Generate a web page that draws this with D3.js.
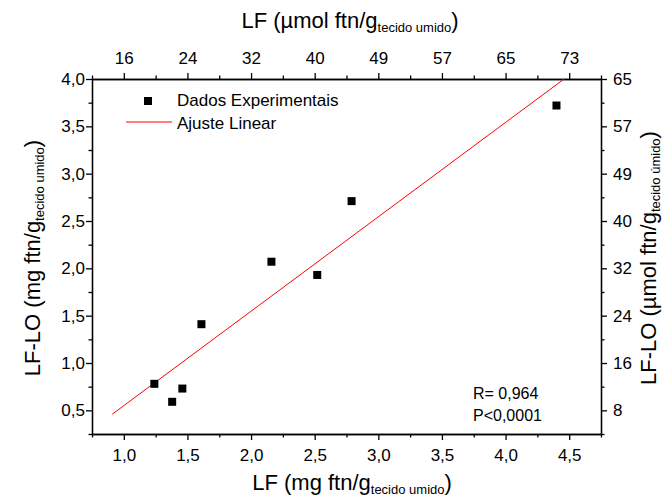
<html>
<script src='https://d3js.org/d3.v7.min.js'></script>
<style>
body {margin:0; background:white;}
text {font-family: Arial, 'Liberation Sans', sans-serif; fill: black;}
.axis path, .axis line {stroke: black; stroke-width: 1.3;}
.axis text {font-size: 17px; font-family: Arial, 'Liberation Sans', sans-serif;}
</style>
<body onload='init()'>
<svg width=669 height=501></svg>
<script>
// data
var lf = [1.24, 1.38, 1.46, 1.61, 2.16, 2.52, 2.79, 4.40];
var lflo = [0.78, 0.59, 0.73, 1.41, 2.07, 1.93, 2.71, 3.72];
var fitX = [0.91, 4.46];
var fitY = [0.46, 4.0];
var bottomTicks = [1.0, 1.5, 2.0, 2.5, 3.0, 3.5, 4.0, 4.5];
var topLabels = ["16", "24", "32", "40", "49", "57", "65", "73"];
var leftTicks = [0.5, 1.0, 1.5, 2.0, 2.5, 3.0, 3.5, 4.0];
var rightLabels = ["8", "16", "24", "32", "40", "49", "57", "65"];
var bottomMinor = [0.75, 1.25, 1.75, 2.25, 2.75, 3.25, 3.75, 4.25, 4.75];
var leftMinor = [0.25, 0.75, 1.25, 1.75, 2.25, 2.75, 3.25, 3.75];

function init() {
	var left = 92, right = 601, top = 79, bottom = 434;
	var svg = d3.select("svg");
	var fmt = d => d3.format(".1f")(d).replace(".", ",");

	var x = d3.scaleLinear().domain([0.75, 4.75]).range([left, right]);
	var y = d3.scaleLinear().domain([0.25, 4.0]).range([bottom, top]);

	// minor ticks
	svg.append("g").attr("class","axis").attr("transform","translate(0,"+bottom+")")
		.call(d3.axisBottom(x).tickValues(bottomMinor).tickSize(3.5).tickSizeOuter(0).tickFormat(""));
	svg.append("g").attr("class","axis").attr("transform","translate(0,"+top+")")
		.call(d3.axisTop(x).tickValues(bottomMinor).tickSize(3.5).tickSizeOuter(0).tickFormat(""));
	svg.append("g").attr("class","axis").attr("transform","translate("+left+",0)")
		.call(d3.axisLeft(y).tickValues(leftMinor).tickSize(3.5).tickSizeOuter(0).tickFormat(""));
	svg.append("g").attr("class","axis").attr("transform","translate("+right+",0)")
		.call(d3.axisRight(y).tickValues(leftMinor).tickSize(3.5).tickSizeOuter(0).tickFormat(""));

	// major ticks
	svg.append("g").attr("class","axis").attr("transform","translate(0,"+bottom+")")
		.call(d3.axisBottom(x).tickValues(bottomTicks).tickSize(6).tickSizeOuter(0).tickPadding(9).tickFormat(fmt));
	svg.append("g").attr("class","axis").attr("transform","translate(0,"+top+")")
		.call(d3.axisTop(x).tickValues(bottomTicks).tickSize(6).tickSizeOuter(0).tickPadding(9).tickFormat((d,i) => topLabels[i]));
	svg.append("g").attr("class","axis").attr("transform","translate("+left+",0)")
		.call(d3.axisLeft(y).tickValues(leftTicks).tickSize(6).tickSizeOuter(0).tickPadding(1).tickFormat(fmt));
	svg.append("g").attr("class","axis").attr("transform","translate("+right+",0)")
		.call(d3.axisRight(y).tickValues(leftTicks).tickSize(6).tickSizeOuter(0).tickPadding(6).tickFormat((d,i) => rightLabels[i]));
	svg.selectAll(".axis text").attr("fill","black");

	// fit line
	svg.append("line")
		.attr("x1", x(fitX[0])).attr("y1", y(fitY[0]))
		.attr("x2", x(fitX[1])).attr("y2", y(fitY[1]))
		.attr("stroke", "red").attr("stroke-width", 1);

	// points
	svg.selectAll("rect.pt").data(lf).enter().append("rect").attr("class","pt")
		.attr("x", (d,i) => x(d) - 4)
		.attr("y", (d,i) => y(lflo[i]) - 4)
		.attr("width", 8).attr("height", 8).attr("fill", "black");

	// legend
	svg.append("rect").attr("x", 144).attr("y", 97).attr("width", 8).attr("height", 8).attr("fill","black");
	svg.append("text").attr("x", 177).attr("y", 106).text("Dados Experimentais").style("font-size","17px");
	svg.append("line").attr("x1", 126).attr("x2", 172).attr("y1", 122).attr("y2", 122).attr("stroke","red").attr("stroke-width",1);
	svg.append("text").attr("x", 177).attr("y", 129).text("Ajuste Linear").style("font-size","17px");

	// stats
	svg.append("text").attr("x", 473).attr("y", 399).text("R= 0,964").style("font-size","16px");
	svg.append("text").attr("x", 473).attr("y", 421).text("P<0,0001").style("font-size","16px");

	// axis titles
	function title(t, main, sub, tail) {
		t.style("font-size","22px");
		t.append("tspan").text(main);
		t.append("tspan").text(sub).style("font-size","13px").attr("dy", 4);
		t.append("tspan").text(tail).attr("dy", -4);
	}
	title(svg.append("text").attr("text-anchor","middle").attr("transform","translate(352,490)"),
		"LF (mg ftn/g", "tecido umido", ")");
	title(svg.append("text").attr("text-anchor","middle").attr("transform","translate(350,28)"),
		"LF (\u00b5mol ftn/g", "tecido umido", ")");
	title(svg.append("text").attr("text-anchor","middle").attr("transform","translate(40,258) rotate(-90)"),
		"LF-LO (mg ftn/g", "tecido umido", ")");
	title(svg.append("text").attr("text-anchor","middle").attr("transform","translate(656,258) rotate(-90)"),
		"LF-LO (\u00b5mol ftn/g", "tecido \u00famido", ")");
}
</script>
</body>
</html>
